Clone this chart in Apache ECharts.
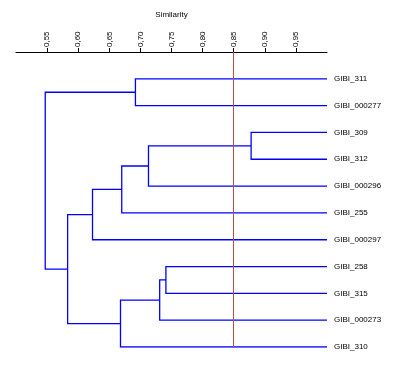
<!DOCTYPE html>
<html>
<head>
<meta charset="utf-8">
<script src="https://cdn.jsdelivr.net/npm/echarts@6/dist/echarts.min.js"></script>
<style>
  html, body { margin: 0; padding: 0; background: #fff; }
  #chart { width: 405px; height: 367px; }
</style>
</head>
<body>
<div id="chart"></div>
<script>
// leaves from top to bottom
const leaves = ['GIBI_311', 'GIBI_000277', 'GIBI_309', 'GIBI_312', 'GIBI_000296', 'GIBI_255',
  'GIBI_000297', 'GIBI_258', 'GIBI_315', 'GIBI_000273', 'GIBI_310'];
// merges: [left, right, similarity]; negative = leaf index (-1 is leaves[0]), positive = earlier merge (1-based)
const merges = [
  [-1, -2, 0.692],   // 1
  [-3, -4, 0.878],   // 2
  [2, -5, 0.713],    // 3
  [3, -6, 0.670],    // 4
  [4, -7, 0.623],    // 5
  [-8, -9, 0.741],   // 6
  [6, -10, 0.731],   // 7
  [7, -11, 0.668],   // 8
  [5, 8, 0.583],     // 9
  [1, 9, 0.547]      // 10
];
const tickValues = [0.55, 0.60, 0.65, 0.70, 0.75, 0.80, 0.85, 0.90, 0.95];
const cutoff = 0.85;
const leafSim = 1.0;

// position of each node: [similarity, y index]
const nodePos = [];
function pos(id) {
  if (id < 0) return [leafSim, -id - 1];
  return nodePos[id - 1];
}
const segs = [];
merges.forEach(function (m) {
  const a = pos(m[0]), b = pos(m[1]);
  segs.push({ coords: [[a[0], a[1]], [m[2], a[1]], [m[2], b[1]], [b[0], b[1]]] });
  nodePos.push([m[2], (a[1] + b[1]) / 2]);
});

const chart = echarts.init(document.getElementById('chart'));
const font = 'Arial, "Liberation Sans", sans-serif';
chart.setOption({
  animation: false,
  grid: { left: 16, right: 78, top: 52, bottom: 20 },
  xAxis: {
    type: 'value',
    position: 'top',
    min: 0.5,
    max: 1.0,
    interval: 0.05,
    name: 'Similarity',
    nameLocation: 'middle',
    nameGap: 33,
    nameTextStyle: { fontFamily: font, fontSize: 8, color: '#000' },
    axisLine: { onZero: false, lineStyle: { color: '#000', width: 1 } },
    axisTick: { length: 4, lineStyle: { color: '#000' }, customValues: tickValues },
    axisLabel: {
      customValues: tickValues,
      rotate: -90,
      margin: 5,
      fontFamily: font,
      fontSize: 8,
      color: '#000',
      formatter: function (v) { return v.toFixed(2).replace('.', ','); }
    },
    splitLine: { show: false }
  },
  yAxis: {
    type: 'value',
    inverse: true,
    min: -1,
    max: 10,
    interval: 1,
    position: 'right',
    axisLine: { show: false },
    axisTick: { show: false },
    splitLine: { show: false },
    axisLabel: {
      margin: 7,
      fontFamily: font,
      fontSize: 8,
      color: '#000',
      formatter: function (v) { return leaves[v] || ''; }
    }
  },
  series: [{
    type: 'lines',
    coordinateSystem: 'cartesian2d',
    polyline: true,
    silent: true,
    lineStyle: { color: '#0000ff', width: 1.3, opacity: 1 },
    data: segs,
    markLine: {
      silent: true,
      symbol: 'none',
      label: { show: false },
      lineStyle: { color: '#b5514b', width: 1, type: 'solid' },
      data: [{ xAxis: cutoff }]
    }
  }]
});
</script>
</body>
</html>
